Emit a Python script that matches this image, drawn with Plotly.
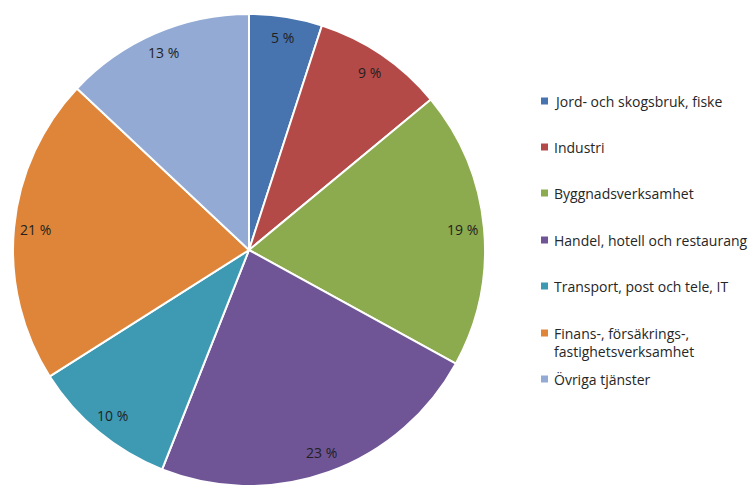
import math
import plotly.graph_objects as go

# Sector shares (percent), clockwise from 12 o'clock
sectors = [
    "Jord- och skogsbruk, fiske",
    "Industri",
    "Byggnadsverksamhet",
    "Handel, hotell och restaurang",
    "Transport, post och tele, IT",
    "Finans-, försäkrings-,<br>fastighetsverksamhet",
    "Övriga tjänster",
]
shares = [5, 9, 19, 23, 10, 21, 13]
colors = ["#4773AE", "#B44A48", "#8CAA4E", "#6F5596", "#3E9AB3", "#DF8539", "#92AAD4"]

W, H = 749, 487
# pie domain in pixels (left, right, top, bottom)
px_l, px_r, px_t, px_b = 13, 485, 14, 486
cx = (px_l + px_r) / 2
cy = (px_t + px_b) / 2
R = (px_r - px_l) / 2

fig = go.Figure(
    go.Pie(
        labels=sectors,
        values=shares,
        sort=False,
        direction="clockwise",
        rotation=0,
        marker=dict(colors=colors, line=dict(color="white", width=2)),
        textinfo="none",
        hoverinfo="label+percent",
        showlegend=False,
        domain=dict(x=[px_l / W, px_r / W], y=[1 - px_b / H, 1 - px_t / H]),
    )
)

annotations = []
shapes = []

# percent labels placed along each slice's bisector
total = sum(shares)
cum = 0
label_r = 0.91 * R
for v in shares:
    mid = (cum + v / 2) / total * 2 * math.pi
    cum += v
    x = cx + label_r * math.sin(mid)
    y = cy - label_r * math.cos(mid)
    annotations.append(dict(
        x=x / W, y=1 - y / H, xref="paper", yref="paper",
        xanchor="center", yanchor="middle",
        text=f"{v} %", showarrow=False,
        font=dict(family="Open Sans", size=14, color="#1f1f1f"),
    ))

# legend entries
legend_y = [101, 147, 193, 240, 286, 342, 379]
marker_y = [101, 147, 193, 240, 286, 333, 379]
for name, col, ty, my in zip(sectors, colors, legend_y, marker_y):
    annotations.append(dict(
        x=552 / W, y=1 - ty / H, xref="paper", yref="paper",
        xanchor="left", yanchor="middle", align="left",
        text=name, showarrow=False,
        font=dict(family="Open Sans", size=14, color="#262626"),
    ))
    shapes.append(dict(
        type="rect", xref="paper", yref="paper",
        x0=541 / W, x1=548 / W, y0=1 - (my + 3.5) / H, y1=1 - (my - 3.5) / H,
        fillcolor=col, line=dict(width=0),
    ))

fig.update_layout(
    width=W, height=H,
    margin=dict(l=0, r=0, t=0, b=0),
    paper_bgcolor="white",
    plot_bgcolor="white",
    annotations=annotations,
    shapes=shapes,
)

fig.write_html("out.html")
